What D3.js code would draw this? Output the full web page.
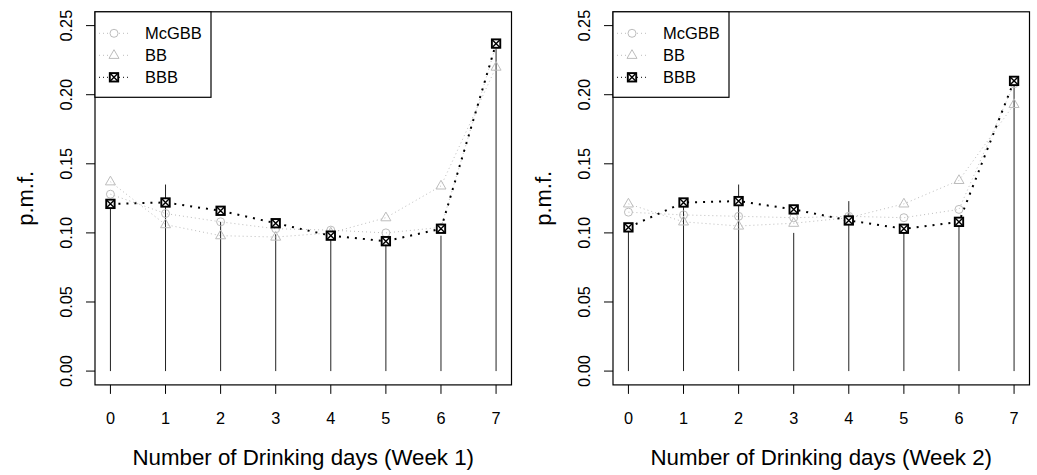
<!doctype html>
<html>
   <head>
      <meta charset="utf-8">
      <title>p.m.f. by week</title>
      <script src="https://d3js.org/d3.v7.min.js"></script>
      <style>
         body { margin: 0; background: #fff; }
         text { font-family: "Liberation Sans", Arial, sans-serif; fill: #000; }
      </style>
   </head>
   <body>
      <div class="chart"></div>
      <script>
         // number of drinking days
         var days = [0, 1, 2, 3, 4, 5, 6, 7];
         var yTicks = [0, 0.05, 0.10, 0.15, 0.20, 0.25];
         var seriesNames = ["McGBB", "BB", "BBB"];

         // week 1
         var obsWeek1   = [0.121, 0.135, 0.108, 0.099, 0.099, 0.097, 0.098, 0.237];
         var mcgbbWeek1 = [0.128, 0.114, 0.108, 0.103, 0.102, 0.100, 0.104, 0.236];
         var bbWeek1    = [0.137, 0.106, 0.098, 0.097, 0.100, 0.111, 0.134, 0.220];
         var bbbWeek1   = [0.121, 0.122, 0.116, 0.107, 0.098, 0.094, 0.103, 0.237];

         // week 2
         var obsWeek2   = [0.104, 0.120, 0.135, 0.100, 0.123, 0.103, 0.106, 0.210];
         var mcgbbWeek2 = [0.115, 0.113, 0.112, 0.111, 0.112, 0.111, 0.117, 0.208];
         var bbWeek2    = [0.121, 0.108, 0.105, 0.107, 0.111, 0.121, 0.138, 0.193];
         var bbbWeek2   = [0.104, 0.122, 0.123, 0.117, 0.109, 0.103, 0.108, 0.210];

         var width = 1037;
         var height = 475;

         var svg = d3.select('.chart').append('svg')
                     .attr('width', width)
                     .attr('height', height);

         var gray = "#bdbdbd";

         function drawPanel(offsetX, obs, mcgbb, bb, bbb, title){
            var left = offsetX + 95, right = offsetX + 511.5;
            var top = 11.8, bottom = 384.9;

            var x = d3.scaleLinear().domain([-0.28, 7.28]).range([left, right]);
            var y = d3.scaleLinear().domain([-0.01, 0.26]).range([bottom, top]);

            var g = svg.append("g");

            // observed stems (type = "h")
            g.append("g").selectAll("line")
               .data(days)
               .enter()
               .append("line")
               .attr("x1", function(d){ return x(d); })
               .attr("x2", function(d){ return x(d); })
               .attr("y1", y(0))
               .attr("y2", function(d, i){ return y(obs[i]); })
               .attr("stroke", "#222")
               .attr("stroke-width", 1);

            var line = d3.line()
                         .x(function(d, i){ return x(days[i]); })
                         .y(function(d){ return y(d); });

            g.append("path").datum(mcgbb)
               .attr("d", line).attr("fill", "none")
               .attr("stroke", gray).attr("stroke-width", 1)
               .attr("stroke-dasharray", "1,3");
            g.append("path").datum(bb)
               .attr("d", line).attr("fill", "none")
               .attr("stroke", gray).attr("stroke-width", 1)
               .attr("stroke-dasharray", "1,3");
            g.append("path").datum(bbb)
               .attr("d", line).attr("fill", "none")
               .attr("stroke", "#000").attr("stroke-width", 2)
               .attr("stroke-dasharray", "2,6");

            g.append("g").selectAll("circle")
               .data(mcgbb).enter().append("circle")
               .attr("cx", function(d, i){ return x(days[i]); })
               .attr("cy", function(d){ return y(d); })
               .attr("r", 4)
               .attr("fill", "none").attr("stroke", gray).attr("stroke-width", 1);

            g.append("g").selectAll("path")
               .data(bb).enter().append("path")
               .attr("transform", function(d, i){ return "translate(" + x(days[i]) + "," + y(d) + ")"; })
               .attr("d", triangle)
               .attr("fill", "none").attr("stroke", gray).attr("stroke-width", 1);

            g.append("g").selectAll("g")
               .data(bbb).enter().append("g")
               .attr("transform", function(d, i){ return "translate(" + x(days[i]) + "," + y(d) + ")"; })
               .each(squareX);

            // box
            g.append("rect")
               .attr("x", left).attr("y", top)
               .attr("width", right - left).attr("height", bottom - top)
               .attr("fill", "none").attr("stroke", "#000").attr("stroke-width", 1.2);

            // x axis
            var xa = g.append("g").selectAll("g").data(days).enter().append("g");
            xa.append("line")
               .attr("x1", function(d){ return x(d); }).attr("x2", function(d){ return x(d); })
               .attr("y1", bottom).attr("y2", bottom + 9)
               .attr("stroke", "#000");
            xa.append("text")
               .attr("x", function(d){ return x(d); })
               .attr("y", 423.5)
               .attr("text-anchor", "middle")
               .style("font-size", "16.3px")
               .text(function(d){ return d; });

            // y axis
            var ya = g.append("g").selectAll("g").data(yTicks).enter().append("g");
            ya.append("line")
               .attr("x1", left - 9).attr("x2", left)
               .attr("y1", function(d){ return y(d); }).attr("y2", function(d){ return y(d); })
               .attr("stroke", "#000");
            ya.append("text")
               .attr("transform", function(d){ return "translate(" + (left - 23) + "," + y(d) + ") rotate(-90)"; })
               .attr("text-anchor", "middle")
               .style("font-size", "16.3px")
               .text(function(d){ return d3.format(".2f")(d); });

            g.append("text")
               .attr("transform", "translate(" + (left - 62) + "," + ((top + bottom) / 2) + ") rotate(-90)")
               .attr("text-anchor", "middle")
               .style("font-size", "22px")
               .text("p.m.f.");

            g.append("text")
               .attr("x", (left + right) / 2)
               .attr("y", 465)
               .attr("text-anchor", "middle")
               .style("font-size", "22.3px")
               .text(title);

            // legend
            var lg = g.append("g").attr("transform", "translate(" + left + "," + top + ")");
            lg.append("rect")
               .attr("width", 116).attr("height", 85.5)
               .attr("fill", "#fff").attr("stroke", "#000").attr("stroke-width", 1.2);
            var rows = [21.5, 43.5, 65.5];
            seriesNames.forEach(function(name, i){
               var ry = rows[i];
               var col = i < 2 ? gray : "#000";
               lg.append("line")
                  .attr("x1", 4).attr("x2", 34).attr("y1", ry).attr("y2", ry)
                  .attr("stroke", col)
                  .attr("stroke-width", 1)
                  .attr("stroke-dasharray", "1,3");
               var s = lg.append("g").attr("transform", "translate(19," + ry + ")");
               if(i === 0){
                  s.append("rect").attr("x", -5).attr("y", -5).attr("width", 10).attr("height", 10).attr("fill", "#fff");
                  s.append("circle").attr("r", 4).attr("fill", "none").attr("stroke", gray);
               } else if(i === 1){
                  s.append("rect").attr("x", -6).attr("y", -6).attr("width", 12).attr("height", 12).attr("fill", "#fff");
                  s.append("path").attr("d", triangle).attr("fill", "none").attr("stroke", gray);
               } else {
                  s.each(squareX);
               }
               lg.append("text")
                  .attr("x", 50).attr("y", ry)
                  .attr("dy", "0.36em")
                  .style("font-size", "16.5px")
                  .text(name);
            });
         }

         function triangle(){
            return "M0,-5.6L5,3.1L-5,3.1Z";
         }

         function squareX(){
            var s = d3.select(this);
            s.append("rect")
               .attr("x", -4.2).attr("y", -4.2).attr("width", 8.4).attr("height", 8.4)
               .attr("fill", "#fff").attr("stroke", "#000").attr("stroke-width", 1.9);
            s.append("path")
               .attr("d", "M-4.2,-4.2L4.2,4.2M-4.2,4.2L4.2,-4.2")
               .attr("stroke", "#000").attr("stroke-width", 1.4);
         }

         drawPanel(0, obsWeek1, mcgbbWeek1, bbWeek1, bbbWeek1, "Number of Drinking days (Week 1)");
         drawPanel(518, obsWeek2, mcgbbWeek2, bbWeek2, bbbWeek2, "Number of Drinking days (Week 2)");
      </script>
   </body>
</html>
